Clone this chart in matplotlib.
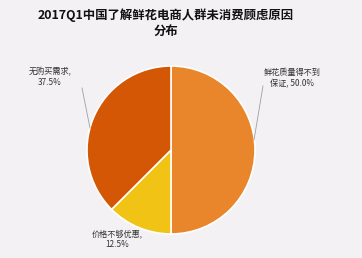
import matplotlib
matplotlib.use("Agg")
import matplotlib.pyplot as plt

plt.rcParams['font.family'] = ['Noto Sans CJK SC', 'DejaVu Sans']

title = "2017Q1中国了解鲜花电商人群未消费顾虑原因\n分布"
categories = ["鲜花质量得不到\n保证, ", "价格不够优惠,\n", "无购买需求,\n"]
values = [50.0, 12.5, 37.5]
colors = ["#E9862C", "#F0C315", "#D35705"]
bg = "#F3F1F4"

W, H = 362, 258
fig = plt.figure(figsize=(W / 100, H / 100), dpi=100, facecolor=bg)
ax = fig.add_axes([0, 0, 1, 1])
ax.set_facecolor(bg)

cx, cy, r = 171, H - 150, 84
ax.pie(values, colors=colors, startangle=90, counterclock=False,
       center=(cx, cy), radius=r, frame=True,
       wedgeprops=dict(edgecolor="white", linewidth=1.2))

ax.set_xlim(0, W)
ax.set_ylim(0, H)
ax.set_aspect("equal")
ax.axis("off")

ax.text(166, H - 23, title, ha="center", va="center", fontsize=8.9,
        fontweight="bold", color="#111111", linespacing=1.3)

lab_kw = dict(ha="center", va="center", fontsize=5.9, color="#333333",
              linespacing=1.3)
label_pos = [(292, H - 78), (117, H - 239), (50, H - 77)]
for name, val, (x, y) in zip(categories, values, label_pos):
    ax.text(x, y, f"{name}{val:.1f}%", **lab_kw)

ax.plot([263, 254], [H - 86, H - 140], color="#A0A0A0", lw=0.6)
ax.plot([82, 90], [H - 88, H - 128], color="#A0A0A0", lw=0.6)

fig.savefig("out.png", dpi=100, facecolor=bg)
